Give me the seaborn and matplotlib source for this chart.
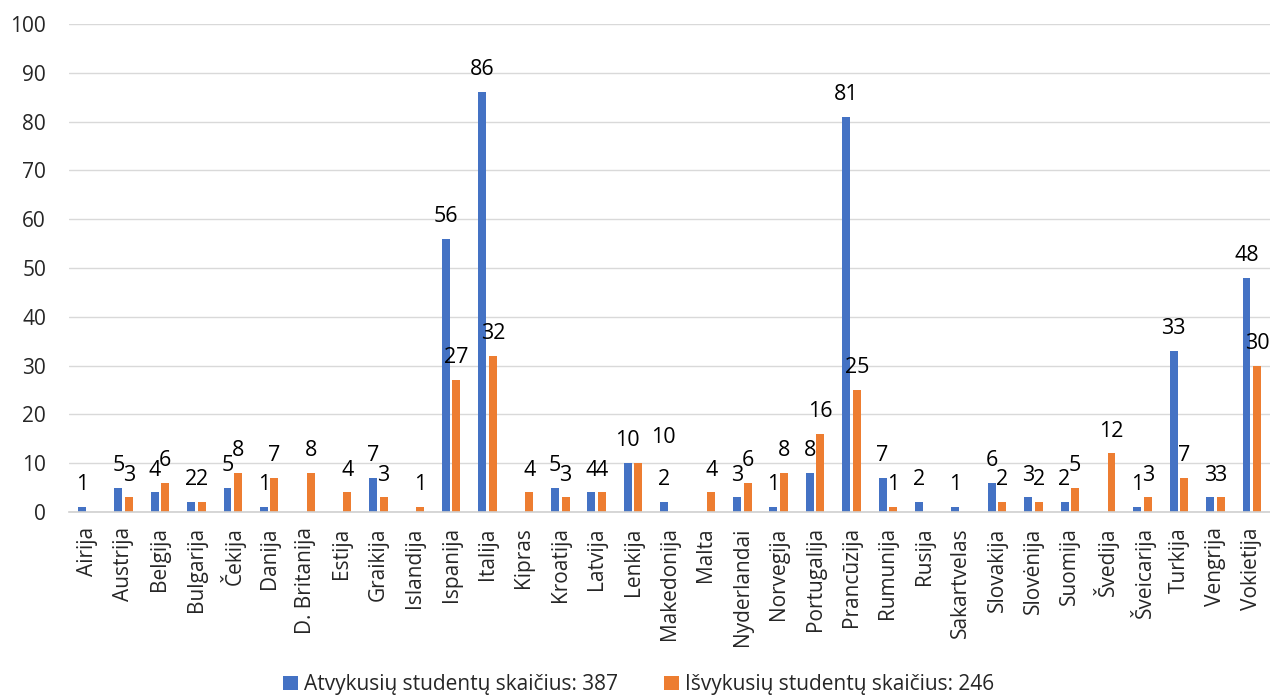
import seaborn as sns
import matplotlib.pyplot as plt
import pandas as pd

countries = ['Airija', 'Austrija', 'Belgija', 'Bulgarija', 'Čekija', 'Danija', 'D. Britanija',
             'Estija', 'Graikija', 'Islandija', 'Ispanija', 'Italija', 'Kipras', 'Kroatija',
             'Latvija', 'Lenkija', 'Makedonija', 'Malta', 'Nyderlandai', 'Norvegija',
             'Portugalija', 'Prancūzija', 'Rumunija', 'Rusija', 'Sakartvelas', 'Slovakija',
             'Slovėnija', 'Suomija', 'Švedija', 'Šveicarija', 'Turkija', 'Vengrija', 'Vokietija']
arrived = [1, 5, 4, 2, 5, 1, 0, 0, 7, 0, 56, 86, 0, 5, 4, 10, 2, 0, 3, 1,
           8, 81, 7, 2, 1, 6, 3, 2, 0, 1, 33, 3, 48]
departed = [0, 3, 6, 2, 8, 7, 8, 4, 3, 1, 27, 32, 4, 3, 4, 10, 0, 4, 6, 8,
            16, 25, 1, 0, 0, 2, 2, 5, 12, 3, 7, 3, 30]
series_in = 'Atvykusių studentų skaičius: 387'
series_out = 'Išvykusių studentų skaičius: 246'

df = pd.DataFrame({
    'country': countries * 2,
    'count': arrived + departed,
    'series': [series_in] * len(countries) + [series_out] * len(countries),
})

sns.set_style('white')
plt.rcParams['font.family'] = ['Open Sans', 'DejaVu Sans']

fig = plt.figure(figsize=(12.7, 6.96), dpi=100)
ax = fig.add_axes([0.0543, 0.2644, 0.9457, 0.7012])
sns.barplot(data=df, x='country', y='count', hue='series',
            palette=['#4472C4', '#ED7D31'], saturation=1, width=0.58, gap=0.25,
            errorbar=None, linewidth=0, ax=ax)

# value labels, blank where there is no value
for cont in ax.containers:
    labels = ['' if v == 0 else f'{int(v)}' for v in cont.datavalues]
    texts = ax.bar_label(cont, labels=labels, padding=8.5, fontsize=15.5, color='black')
    if cont is ax.containers[1]:
        # Lenkija orange label is pushed aside in the original
        idx = countries.index('Lenkija')
        texts[idx].xyann = (18, 11)

ax.set_ylim(0, 100)
ax.set_yticks(range(0, 101, 10))
ax.set_xlim(-0.5, len(countries) - 0.5)
ax.yaxis.grid(True, color='#D9D9D9', linewidth=1)
ax.set_axisbelow(True)
for s in ['left', 'right', 'top']:
    ax.spines[s].set_visible(False)
ax.spines['bottom'].set_color('#D0D0D0')
ax.spines['bottom'].set_linewidth(1.2)
ax.tick_params(axis='y', length=0, pad=16.5, labelsize=15)
ax.tick_params(axis='x', length=0, pad=11, labelsize=15, rotation=90)
ax.set_xlabel('')
ax.set_ylabel('')

handles, lbls = ax.get_legend_handles_labels()
ax.legend_.remove()
fig.legend(handles, lbls, loc='lower center', bbox_to_anchor=(0.503, -0.026), ncol=2,
           frameon=False, fontsize=15, handlelength=0.7, handleheight=0.7,
           handletextpad=0.3, columnspacing=2.2)

plt.savefig('out.png', dpi=100)
